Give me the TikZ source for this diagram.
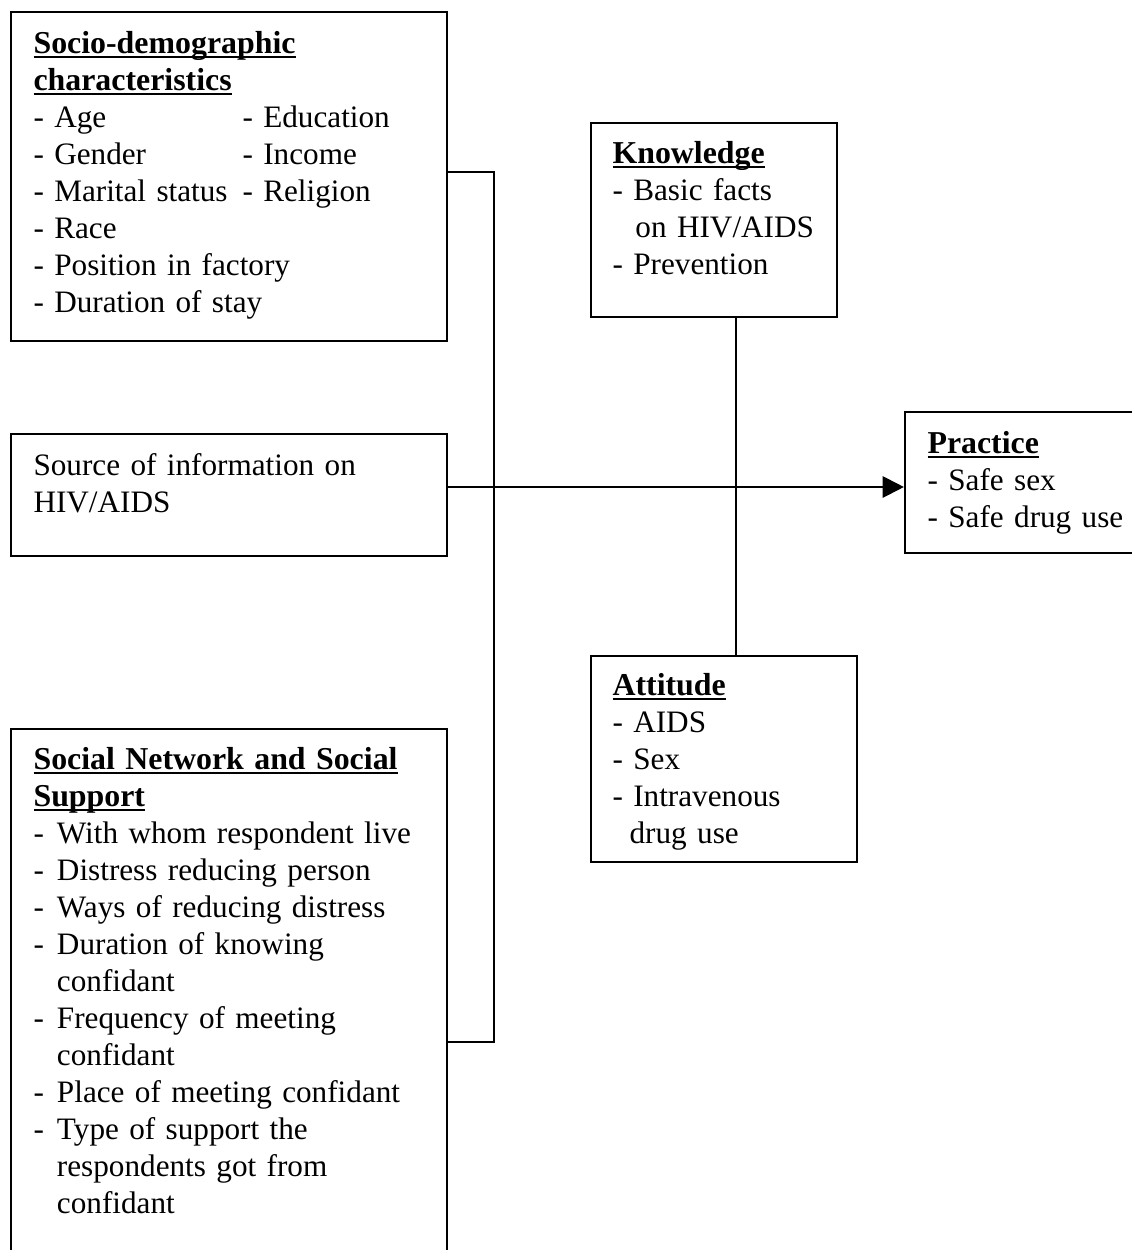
\documentclass[tikz,border=0pt]{standalone}
\usepackage{fontspec}
\setmainfont{Liberation Serif}
\usetikzlibrary{fit,arrows.meta}
\newcommand{\hd}[1]{\leavevmode\setbox0\hbox{\fontsize{11.95}{13.875}\selectfont\textbf{#1}}\rlap{\rule[-2pt]{\wd0}{0.7pt}}\box0}
\newcommand{\itm}[1]{\makebox[8.8pt][l]{-}#1}
\newcommand{\cont}[1]{\hspace*{8.8pt}#1}
\tikzset{
  box/.style={draw, line width=0.8pt, inner sep=0pt},
  txt/.style={anchor=base west, align=left, inner sep=0pt, text width=#1,
              font=\fontsize{11.7}{13.875}\selectfont},
  conn/.style={line width=0.8pt},
  arr/.style={line width=0.8pt, -{Triangle[length=8pt,width=8pt]}}
}
\begin{document}
\begin{tikzpicture}[x=0.375pt,y=-0.375pt]
\clip (0,0) rectangle (1132,1250);
\fill[white] (0,0) rectangle (1132,1250);
% boxes
\node[box, fit={(11,12) (447,341)}] (sd) {};
\node[box, fit={(11,434) (447,556)}] (src) {};
\node[box, fit={(11,729) (447,1265)}] (sn) {};
\node[box, fit={(591,123) (837,317)}] (kn) {};
\node[box, fit={(591,656) (857,862)}] (at) {};
\node[box, fit={(905,412) (1150,553)}] (pr) {};
% texts
\node[txt=160pt] (sdt) at (33,53) {\hd{Socio-demographic}\\ \hd{characteristics}\\
- Age\\ - Gender\\ - Marital status\\ - Race\\ - Position in factory\\ - Duration of stay};
\node[txt=70pt] (sdt2) at (242,127) {- Education\\ - Income\\ - Religion};
\node[txt=160pt] (srct) at (33,475) {Source of information on\\ HIV/AIDS};
\node[txt=160pt] (snt) at (33,769) {\hd{Social Network and Social}\\ \hd{Support}\\
\itm{With whom respondent live}\\ \itm{Distress reducing person}\\ \itm{Ways of reducing distress}\\
\itm{Duration of knowing}\\ \cont{confidant}\\ \itm{Frequency of meeting}\\ \cont{confidant}\\
\itm{Place of meeting confidant}\\ \itm{Type of support the}\\ \cont{respondents got from}\\ \cont{confidant}};
\node[txt=85pt] (knt) at (612,163) {\hd{Knowledge}\\ - Basic facts\\ \hspace*{8.6pt}on HIV/AIDS\\ - Prevention};
\node[txt=95pt] (att) at (612,695) {\hd{Attitude}\\ - AIDS\\ - Sex\\ - Intravenous\\ \hspace*{6.4pt}drug use};
\node[txt=85pt] (prt) at (927,453) {\hd{Practice}\\ - Safe sex\\ - Safe drug use};
% connectors
\coordinate (j1) at (494,172);
\coordinate (j2) at (494,1042);
\draw[conn] (sd.east |- j1) -- (j1) -- (j2) -- (sn.east |- j2);
\draw[conn] (kn.south -| 736,0) -- (at.north -| 736,0);
\draw[arr] (src.east |- 0,487) -- (pr.west |- 0,487);
\end{tikzpicture}
\end{document}
